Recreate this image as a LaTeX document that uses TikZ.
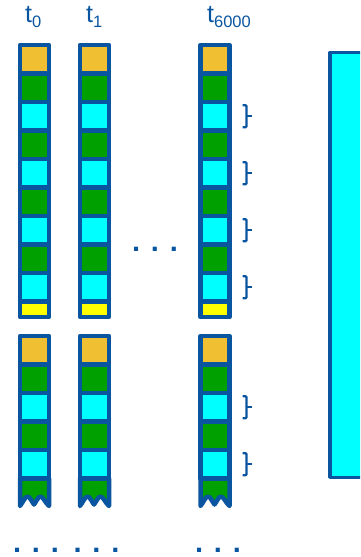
\documentclass[tikz,border=0pt]{standalone}
\usepackage{fontspec}
\setmainfont{Liberation Sans}
\definecolor{bl}{RGB}{10,85,160}
\definecolor{org}{RGB}{240,192,50}
\definecolor{grn}{RGB}{0,160,0}
\definecolor{cyn}{RGB}{0,255,255}
\definecolor{ylw}{RGB}{255,255,0}
\begin{document}
\begin{tikzpicture}[x=1pt,y=-1pt,
 cell/.style={draw=bl,line width=4.5pt,line join=round},
 bracepath/.style={draw=bl,line width=2.4pt},
 lbl/.style={text=bl,inner sep=0pt,anchor=base west,font=\fontsize{25}{25}\selectfont},
 dotsrow/.style={text=bl,inner sep=0pt,anchor=base west,font=\bfseries\fontsize{29}{29}\selectfont}]
\useasboundingbox (0,0) rectangle (360,557);
\clip (0,0) rectangle (360,557);
% columns
\foreach \cx in {34.5,94.5,215}{
  \begin{scope}[xshift=\cx pt]
    \foreach \c [count=\i from 0] in {org,grn,cyn,grn,cyn,grn,cyn,grn,cyn}
      \filldraw[cell,fill=\c] (-14.5,{45+28.5*\i}) rectangle (14.5,{73.5+28.5*\i});
    \filldraw[cell,fill=ylw] (-14.5,301.5) rectangle (14.5,317);
    \foreach \c [count=\i from 0] in {org,grn,cyn,grn,cyn}
      \filldraw[cell,fill=\c] (-14.5,{336+28.5*\i}) rectangle (14.5,{364.5+28.5*\i});
    \filldraw[cell,fill=grn] (-14.5,478.5) -- (14.5,478.5) -- (14.5,506)
      .. controls (11,503) and (8.5,496.5) .. (6,496.5)
      .. controls (3.5,496.5) and (1,503) .. (-0.5,504.5)
      .. controls (-2,503) and (-4.5,496.5) .. (-7,496.5)
      .. controls (-9.5,496.5) and (-12,503) .. (-14.5,506) -- cycle;
  \end{scope}
}
% labels
\node[lbl] (t0) at (25,22) {t\raisebox{-5pt}{\fontsize{16.5}{16.5}\selectfont 0}};
\node[lbl] (t1) at (86,22) {t\raisebox{-5pt}{\fontsize{16.5}{16.5}\selectfont 1}};
\node[lbl] (t6000) at (207,22) {t\raisebox{-5pt}{\fontsize{16.5}{16.5}\selectfont 6000}};
% braces
\foreach \y in {116.25,173.25,230.25,287.25,407.25,464.25}{
  \draw[bracepath,rounded corners=1pt] (242.5,{\y-11}) -- (246.5,{\y-11}) -- (246.5,{\y+11}) -- (242.5,{\y+11});
  \draw[bracepath] (246.5,\y) -- (251.5,\y);
}
% big rectangle
\filldraw[draw=bl,fill=cyn,line width=3.5pt,line join=round] (330,52.5) rectangle (372,477.3);
% dots
\node[dotsrow] (dm) at (132,251) {. . .};
\node[dotsrow] (d1) at (13,552) {. . .};
\node[dotsrow] (d2) at (73.5,552) {. . .};
\node[dotsrow] (d3) at (195,552) {. . .};
\end{tikzpicture}
\end{document}
